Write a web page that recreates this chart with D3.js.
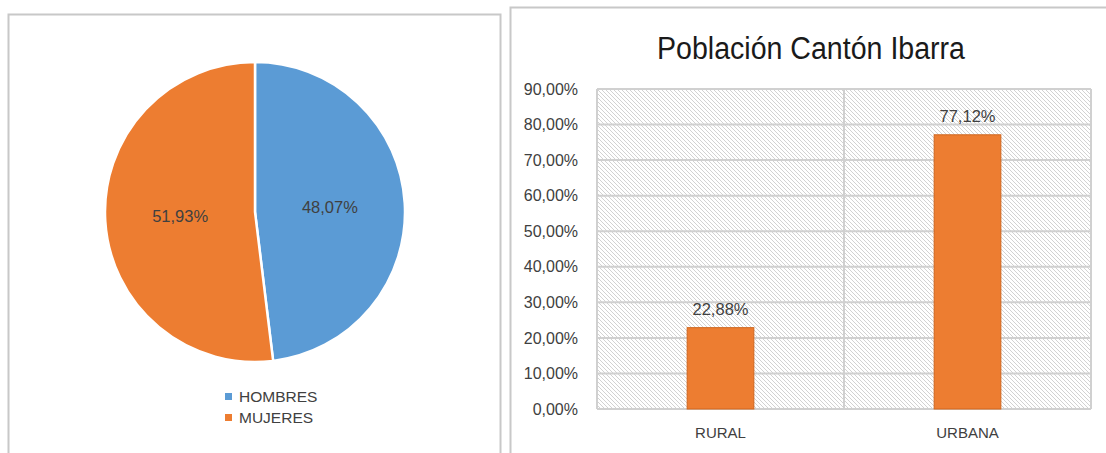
<!DOCTYPE html>
<html><head><meta charset="utf-8">
<script src="https://cdn.jsdelivr.net/npm/d3@7"></script>
<style>body{margin:0;background:#fff;}svg{display:block;}</style>
</head><body>
<svg id="c" width="1106" height="453"></svg>
<script>
const pieLabels = ["HOMBRES", "MUJERES"];
const pieValues = [48.07, 51.93];
const pieColors = ["#5b9bd5", "#ed7d31"];

const barCategories = ["RURAL", "URBANA"];
const barValues = [22.88, 77.12];
const yTicks = [0, 10, 20, 30, 40, 50, 60, 70, 80, 90];
const title = "Población Cantón Ibarra";

const FONT = "'Liberation Sans', Arial, sans-serif";
const fmt = v => v.toFixed(2).replace(".", ",") + "%";
const svg = d3.select("#c");

// ---- panels ----
svg.append("rect").attr("x", 8.5).attr("y", 14.5).attr("width", 492).attr("height", 460)
  .attr("fill", "#fff").attr("stroke", "#c8c8c8").attr("stroke-width", 2);
svg.append("rect").attr("x", 510.5).attr("y", 7.5).attr("width", 620).attr("height", 470)
  .attr("fill", "#fff").attr("stroke", "#c8c8c8").attr("stroke-width", 2);

// ---- pie ----
const cx = 255, cy = 212, r = 150;
const pie = d3.pie().sort(null).value(d => d)(pieValues);
const arc = d3.arc().innerRadius(0).outerRadius(r);
const gp = svg.append("g").attr("transform", `translate(${cx},${cy})`);
gp.selectAll("path").data(pie).join("path")
  .attr("d", arc).attr("fill", (d, i) => pieColors[i])
  .attr("stroke", "#fff").attr("stroke-width", 2.5);
const labelArc = d3.arc().innerRadius(r * 0.5).outerRadius(r * 0.5);
gp.selectAll("text").data(pie).join("text")
  .attr("transform", d => `translate(${labelArc.centroid(d)})`)
  .attr("text-anchor", "middle").attr("dy", "0.35em")
  .attr("font-family", FONT).attr("font-size", 16.5).attr("fill", "#404040")
  .text(d => fmt(d.data));

// legend
const lg = svg.append("g").attr("transform", "translate(225,397)");
pieLabels.forEach((l, i) => {
  const g = lg.append("g").attr("transform", `translate(0,${i * 21})`);
  g.append("rect").attr("x", 0).attr("y", -4).attr("width", 7).attr("height", 7).attr("fill", pieColors[i]);
  g.append("text").attr("x", 14).attr("dy", "0.35em").attr("font-family", FONT)
    .attr("font-size", 15.5).attr("fill", "#404040").text(l);
});

// ---- bar chart ----
const defs = svg.append("defs");
const pat = defs.append("pattern").attr("id", "hatch").attr("patternUnits", "userSpaceOnUse")
  .attr("width", 4).attr("height", 4);
pat.append("rect").attr("width", 4).attr("height", 4).attr("fill", "#fff");
pat.append("path").attr("d", "M-1,-1 L5,5 M-1,3 L1,5 M3,-1 L5,1")
  .attr("stroke", "#d2d2d2").attr("stroke-width", 1);

const px0 = 597, px1 = 1091, py0 = 89, py1 = 409;
const x = d3.scaleBand().domain(barCategories).range([px0, px1]).padding(0);
const y = d3.scaleLinear().domain([0, 90]).range([py1, py0]);

svg.append("rect").attr("x", px0).attr("y", py0).attr("width", px1 - px0).attr("height", py1 - py0)
  .attr("fill", "url(#hatch)");

// gridlines
svg.append("g").selectAll("line").data(yTicks).join("line")
  .attr("x1", px0).attr("x2", px1).attr("y1", d => y(d)).attr("y2", d => y(d))
  .attr("stroke", "#d0d0d0").attr("stroke-width", 2);
// vertical lines (category separators + borders)
const vlines = [px0, x(barCategories[1]), px1];
svg.append("g").selectAll("line").data(vlines).join("line")
  .attr("x1", d => d).attr("x2", d => d).attr("y1", py0).attr("y2", py1)
  .attr("stroke", "#d0d0d0").attr("stroke-width", 2);

// y axis labels
const yAxis = d3.axisLeft(y).tickValues(yTicks).tickFormat(fmt).tickSize(0).tickPadding(19);
const ya = svg.append("g").attr("transform", `translate(${px0},0)`).call(yAxis);
ya.select(".domain").remove();
ya.selectAll("text").attr("font-family", FONT).attr("font-size", 16).attr("fill", "#404040");

// x axis labels
const xAxis = d3.axisBottom(x).tickSize(0).tickPadding(18);
const xa = svg.append("g").attr("transform", `translate(0,${py1})`).call(xAxis);
xa.select(".domain").remove();
xa.selectAll("text").attr("font-family", FONT).attr("font-size", 15).attr("fill", "#404040");

// bars
const bw = x.bandwidth() * 0.27;
svg.append("g").selectAll("rect").data(barValues).join("rect")
  .attr("x", (d, i) => x(barCategories[i]) + x.bandwidth() / 2 - bw / 2)
  .attr("y", d => y(d)).attr("width", bw).attr("height", d => y(0) - y(d))
  .attr("fill", "#ed7d31").attr("stroke", "#d0661e").attr("stroke-width", 1);
svg.append("g").selectAll("text").data(barValues).join("text")
  .attr("x", (d, i) => x(barCategories[i]) + x.bandwidth() / 2)
  .attr("y", d => y(d) - 13).attr("text-anchor", "middle")
  .attr("font-family", FONT).attr("font-size", 16.5).attr("fill", "#404040")
  .text(d => fmt(d));

// title
svg.append("text").attr("x", 811).attr("y", 59).attr("text-anchor", "middle")
  .attr("font-family", FONT).attr("font-size", 31).attr("fill", "#1a1a1a")
  .attr("textLength", 308).attr("lengthAdjust", "spacingAndGlyphs").text(title);
</script>
</body></html>
